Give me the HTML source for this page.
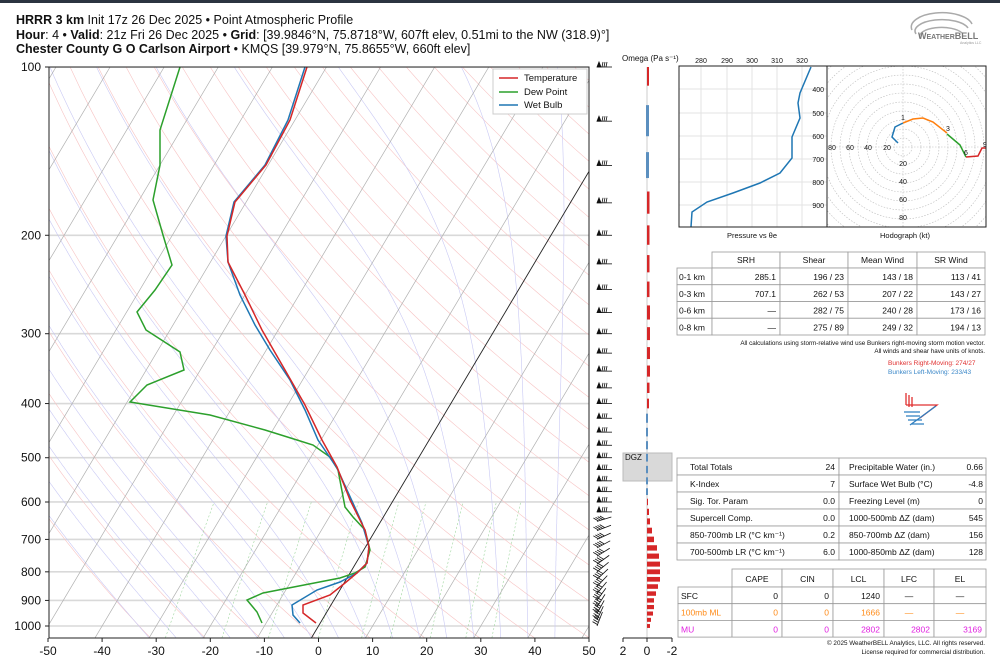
<!DOCTYPE html>
<html><head><meta charset="utf-8">
<style>
html,body{margin:0;padding:0;background:#fff;}
svg{display:block;font-family:"Liberation Sans",sans-serif;}
</style></head>
<body>
<svg id="s" width="1000" height="663" viewBox="0 0 1000 663" xmlns="http://www.w3.org/2000/svg">
<rect x="0" y="0" width="1000" height="663" fill="#fff"/>
<rect x="0" y="0" width="1000" height="3" fill="#2b3440"/>
<defs>
<clipPath id="cp"><rect x="49" y="67" width="540" height="571"/></clipPath>
<clipPath id="ch"><rect x="827" y="66" width="159" height="161"/></clipPath>
<clipPath id="ct"><rect x="679" y="66" width="148" height="161"/></clipPath>
</defs>
<text x="16" y="24" font-size="12.5" fill="#111"><tspan font-weight="bold">HRRR 3 km</tspan> Init 17z 26 Dec 2025 • Point Atmospheric Profile</text>
<text x="16" y="39" font-size="12.5" fill="#111"><tspan font-weight="bold">Hour</tspan>: 4 • <tspan font-weight="bold">Valid</tspan>: 21z Fri 26 Dec 2025 • <tspan font-weight="bold">Grid</tspan>: [39.9846°N, 75.8718°W, 607ft elev, 0.51mi to the NW (318.9)°]</text>
<text x="16" y="53" font-size="12.5" fill="#111"><tspan font-weight="bold">Chester County G O Carlson Airport</tspan> • KMQS [39.979°N, 75.8655°W, 660ft elev]</text>
<g id="bg" clip-path="url(#cp)"></g>
<g id="prof" clip-path="url(#cp)" fill="none" stroke-width="1.5"></g>
<rect x="49" y="67" width="540" height="571" fill="none" stroke="#222" stroke-width="1"/>
<g id="axes" font-size="12" fill="#111"></g>
<g font-size="9.5" fill="#111">
<rect x="493" y="69" width="94" height="45" fill="#fff" stroke="#ccc"/>
<line x1="499" y1="78" x2="518" y2="78" stroke="#d62728" stroke-width="1.5"/><text x="524" y="81">Temperature</text>
<line x1="499" y1="92" x2="518" y2="92" stroke="#2ca02c" stroke-width="1.5"/><text x="524" y="95">Dew Point</text>
<line x1="499" y1="105" x2="518" y2="105" stroke="#1f77b4" stroke-width="1.5"/><text x="524" y="108">Wet Bulb</text>
</g>
<g id="barbs" stroke="#111" fill="#111" stroke-width="0.8"></g>
<text x="622" y="61" font-size="8" fill="#111">Omega (Pa s⁻¹)</text>
<rect x="623" y="453" width="49" height="28" fill="#d9d9d9" stroke="#bbb"/>
<text x="625" y="460" font-size="8" fill="#111">DGZ</text>
<line x1="647" y1="67" x2="647" y2="638" stroke="#ccc" stroke-width="1"/>
<g id="omega"></g>
<line x1="623" y1="638" x2="672" y2="638" stroke="#222"/>
<g font-size="12" fill="#111" text-anchor="middle">
<line x1="623" y1="638" x2="623" y2="642" stroke="#222"/><line x1="647" y1="638" x2="647" y2="642" stroke="#222"/><line x1="672" y1="638" x2="672" y2="642" stroke="#222"/>
<text x="623" y="655">2</text><text x="647" y="655">0</text><text x="672" y="655">-2</text>
</g>
<g id="te" font-size="7" fill="#111"></g>
<rect x="679" y="66" width="148" height="161" fill="none" stroke="#222"/>
<text x="752" y="238" font-size="7.5" text-anchor="middle" fill="#111">Pressure vs θe</text>
<g id="hodo" font-size="7" fill="#111"></g>
<rect x="827" y="66" width="159" height="161" fill="none" stroke="#222"/>
<text x="905" y="238" font-size="7.5" text-anchor="middle" fill="#111">Hodograph (kt)</text>
<g fill="none" stroke="#aaa" stroke-width="1.5">
<path d="M912 30 A30 14 0 0 1 972 24"/><path d="M916 34 A26 11 0 0 1 968 28"/><path d="M920 38 A22 9 0 0 1 962 33"/>
</g>
<text x="918" y="39" font-size="9" font-weight="bold" fill="#777">W<tspan font-size="7">EATHER</tspan>BELL</text>
<text x="960" y="44" font-size="3.5" fill="#999">Analytics LLC</text>
<g id="tables" font-size="8.5" fill="#111"></g>
</svg>
<script>
const NS="http://www.w3.org/2000/svg";
function el(par,tag,at,txt){const e=document.createElementNS(NS,tag);for(const k in at)e.setAttribute(k,at[k]);if(txt!==undefined)e.textContent=txt;document.getElementById(par).appendChild(e);return e;}
const yOf=p=>67+559*Math.log10(p/100);
const xOf=(T,p)=>318.5+T*5.41+(626-yOf(p))*0.595;
function pathFrom(pts){return pts.map((q,i)=>(i?'L':'M')+q[0].toFixed(1)+' '+q[1].toFixed(1)).join(' ');}
for(let p=100;p<=1000;p+=100){el('bg','line',{x1:49,x2:589,y1:yOf(p),y2:yOf(p),stroke:'#d9d9d9','stroke-width':1.6});}
for(let th=240;th<=500;th+=10){const pts=[];for(let p=1050;p>=100;p-=10){const T=th*Math.pow(p/1000,0.2857)-273.15;pts.push([xOf(T,p),yOf(p)]);}
el('bg','path',{d:pathFrom(pts),fill:'none',stroke:'#f7c4c4','stroke-width':0.6});}
function es(T){return 6.112*Math.exp(17.67*(T-273.15)/(T-29.65));}
for(let t0=-30;t0<=45;t0+=5){let T=t0+273.15;const pts=[];for(let p=1050;p>=100;p-=2){pts.push([xOf(T-273.15,p),yOf(p)]);const e=es(T),rs=0.622*e/(p-e);const d=(287*T+2.5e6*rs)/(p*(1004+2.5e6*2.5e6*rs*0.622/(287*T*T)));T-=d*2;}
el('bg','path',{d:pathFrom(pts),fill:'none',stroke:'#c9c9f4','stroke-width':0.6});}
[0.4,1,2,4,7,10,16,24,32].forEach(w=>{const pts=[];for(let p=1050;p>=600;p-=10){const e=(w/1000)*p/(0.622+w/1000);const l=Math.log(e/6.112);const Td=243.5*l/(17.67-l);pts.push([xOf(Td,p),yOf(p)]);}
el('bg','path',{d:pathFrom(pts),fill:'none',stroke:'#9fd69f','stroke-width':0.6,'stroke-dasharray':'2,2'});});
for(let T=-150;T<=50;T+=10){el('bg','line',{x1:xOf(T,1050),y1:yOf(1050),x2:xOf(T,100),y2:yOf(100),stroke:T==0?'#222':'#b0b0b0','stroke-width':T==0?0.9:0.7});}
const red=[[307,67],[290,120],[266,165],[235,202],[227,236],[228,262],[245,295],[262,330],[285,370],[305,405],[322,440],[337,467],[350,500],[365,530],[369,547],[367,563],[357,573],[345,583],[330,595],[303,605],[303,613],[316,623]];
const blue=[[305,67],[288,120],[265,165],[234,202],[226,236],[228,262],[240,295],[255,325],[270,350],[290,380],[305,410],[318,440],[337,468],[362,523],[369,547],[367,563],[357,573],[340,582],[317,590],[292,605],[293,615],[300,623]];
const green=[[180,67],[160,130],[160,165],[153,200],[163,235],[172,265],[155,290],[137,312],[146,330],[180,352],[184,370],[147,385],[130,402],[210,415],[265,430],[297,440],[313,445],[330,457],[338,470],[345,507],[353,517],[365,530],[370,550],[365,567],[355,573],[340,578],[263,593],[247,600],[257,612],[262,623]];
el('prof','path',{d:pathFrom(green),stroke:'#2ca02c'});
el('prof','path',{d:pathFrom(blue),stroke:'#1f77b4'});
el('prof','path',{d:pathFrom(red),stroke:'#d62728'});
for(let p=100;p<=1000;p+=100){const y=yOf(p);el('axes','line',{x1:45,x2:49,y1:y,y2:y,stroke:'#222'});el('axes','text',{x:41,y:y+4,'text-anchor':'end'},String(p));}
for(let T=-50;T<=50;T+=10){const x=318.5+T*5.41;el('axes','line',{x1:x,x2:x,y1:638,y2:642,stroke:'#222'});el('axes','text',{x:x,y:655,'text-anchor':'middle'},String(T));}
const om={100:['r',2],125:['b',3],150:['b',3],175:['r',2.5],200:['r',2.5],225:['r',2.5],250:['r',2.5],275:['r',3],300:['r',3],325:['r',3],350:['r',3],375:['r',2.5],400:['r',2],425:['b',2],450:['b',2],475:['b',2],500:['b',2],525:['b',2],550:['b',2],575:['b',2],600:['r',1],625:['r',2],650:['r',3],675:['r',5],700:['r',7],725:['r',10],750:['r',12],775:['r',13],800:['r',13],825:['r',13],850:['r',11],875:['r',9],900:['r',7],925:['r',7],950:['r',6],975:['r',4],1000:['r',3]};
for(const k in om){const p=+k;const y0=Math.max(67,yOf(p-8)),y1=yOf(p+8);const [c,w]=om[k];
if(c=='r')el('omega','rect',{x:647,y:y0,width:w,height:y1-y0,fill:'#d62728'});else el('omega','rect',{x:646,y:y0,width:w,height:y1-y0,fill:'#5b8fbf'});}
for(let p=100;p<=1000;p+=25){const y=yOf(p);
if(p<650){el('barbs','line',{x1:597,y1:y,x2:612,y2:y});el('barbs','path',{d:`M597 ${y} L599 ${y-5} L601 ${y} Z`});
for(let i=0;i<3;i++)el('barbs','line',{x1:602+i*2,y1:y,x2:603+i*2,y2:y-5});}
else{const ang=(p-650)/350;const dx=15*Math.cos(0.3+ang*0.9),dy=-15*Math.sin(0.3+ang*0.9);
el('barbs','line',{x1:597,y1:y,x2:597+dx,y2:y+dy});for(let i=0;i<4;i++){const bx=597+dx*(0.1+i*0.15),by=y+dy*(0.1+i*0.15);el('barbs','line',{x1:bx,y1:by,x2:bx-5,y2:by-3});}}}
const tx=[[280,701],[290,727],[300,752],[310,777],[320,802]];
tx.forEach(([v,x])=>{el('te','line',{x1:x,x2:x,y1:66,y2:227,stroke:'#e3e3e3'});el('te','text',{x:x,y:63,'text-anchor':'middle'},String(v));});
[[400,89],[500,113],[600,136],[700,159],[800,182],[900,205]].forEach(([v,y])=>{el('te','line',{x1:679,x2:827,y1:y,y2:y,stroke:'#e3e3e3'});el('te','text',{x:824,y:y+3,'text-anchor':'end'},String(v));});
el('te','path',{d:pathFrom([[811,67],[800,93],[798,103],[800,118],[792,137],[792,158],[780,173],[760,183],[733,193],[707,202],[692,212],[691,227]]),fill:'none',stroke:'#1f77b4','stroke-width':1.5,'clip-path':'url(#ct)'});
const cx=903,cy=147;
for(let r=9;r<=120;r+=9)el('hodo','circle',{cx:cx,cy:cy,r:r,fill:'none',stroke:'#bbb','stroke-width':0.6,'stroke-dasharray':'1.5,1.5','clip-path':'url(#ch)'});
el('hodo','line',{x1:827,x2:986,y1:cy,y2:cy,stroke:'#bbb','stroke-width':0.6,'stroke-dasharray':'1.5,1.5'});
el('hodo','line',{x1:cx,x2:cx,y1:66,y2:227,stroke:'#bbb','stroke-width':0.6,'stroke-dasharray':'1.5,1.5'});
[[20,887],[40,868],[60,850],[80,832]].forEach(([v,x])=>{el('hodo','text',{x:x,y:cy+3,'text-anchor':'middle'},String(v));});
[[20,166],[40,184],[60,202],[80,220]].forEach(([v,y])=>{el('hodo','text',{x:cx,y:y,'text-anchor':'middle'},String(v));});
el('hodo','path',{d:pathFrom([[898,143],[892,137],[895,127],[903,123]]),fill:'none',stroke:'#1f77b4','stroke-width':1.5});
el('hodo','path',{d:pathFrom([[903,123],[913,119],[923,118],[933,122],[947,133]]),fill:'none',stroke:'#ff7f0e','stroke-width':1.5});
el('hodo','path',{d:pathFrom([[947,134],[960,145],[966,157]]),fill:'none',stroke:'#2ca02c','stroke-width':1.5});
el('hodo','path',{d:pathFrom([[966,157],[978,156],[981,150],[982,148],[986,148]]),fill:'none',stroke:'#d62728','stroke-width':1.5,'clip-path':'url(#ch)'});
[['1',903,120],['3',948,131],['6',966,155],['9',985,147]].forEach(([t,x,y])=>el('hodo','text',{x:x,y:y,'text-anchor':'middle'},t));
function cell(x,y,w,h){el('tables','rect',{x:x,y:y,width:w,height:h,fill:'#fff',stroke:'#999','stroke-width':0.8});}
function txt(x,y,t,anc,col,fs){const a={x:x,y:y,'text-anchor':anc||'start'};if(col)a.fill=col;if(fs)a['font-size']=fs;el('tables','text',a,t);}
const c1=[677,712,780,848,917,985];
['SRH','Shear','Mean Wind','SR Wind'].forEach((h,i)=>{cell(c1[i+1],252,c1[i+2]-c1[i+1],16);txt((c1[i+1]+c1[i+2])/2,263,h,'middle');});
const r1=[['0-1 km','285.1','196 / 23','143 / 18','113 / 41'],['0-3 km','707.1','262 / 53','207 / 22','143 / 27'],['0-6 km','—','282 / 75','240 / 28','173 / 16'],['0-8 km','—','275 / 89','249 / 32','194 / 13']];
r1.forEach((r,j)=>{const y=268+j*16.75;for(let i=0;i<5;i++){cell(c1[i],y,c1[i+1]-c1[i],16.75);}
txt(679,y+12,r[0]);for(let i=1;i<5;i++)txt(c1[i+1]-4,y+12,r[i],'end');});
txt(985,345,'All calculations using storm-relative wind use Bunkers right-moving storm motion vector.','end',null,6.3);
txt(985,353,'All winds and shear have units of knots.','end',null,6.3);
txt(888,365,'Bunkers Right-Moving: 274/27','start','#e03030',6.5);
txt(888,374,'Bunkers Left-Moving: 233/43','start','#3a87c8',6.5);
el('tables','path',{d:'M906 393 L906 405 M909 395 L909 407 M912 397 L912 407 M906 405 L937 405 L920 418',fill:'none',stroke:'#e03030','stroke-width':1.3});
el('tables','path',{d:'M904 412 L920 412 M906 416 L920 416 M908 420 L922 420 M911 424 L924 424 M910 425 L936 406',fill:'none',stroke:'#2f7fc0','stroke-width':1.3});
const r2=[['Total Totals','24','Precipitable Water (in.)','0.66'],['K-Index','7','Surface Wet Bulb (°C)','-4.8'],['Sig. Tor. Param','0.0','Freezing Level (m)','0'],['Supercell Comp.','0.0','1000-500mb ΔZ (dam)','545'],['850-700mb LR (°C km⁻¹)','0.2','850-700mb ΔZ (dam)','156'],['700-500mb LR (°C km⁻¹)','6.0','1000-850mb ΔZ (dam)','128']];
r2.forEach((r,j)=>{const y=458+j*17;cell(677,y,162,17);cell(839,y,147,17);txt(690,y+12,r[0]);txt(835,y+12,r[1],'end');txt(849,y+12,r[2]);txt(983,y+12,r[3],'end');});
const c3=[678,732,782,833,884,934,986];
['CAPE','CIN','LCL','LFC','EL'].forEach((h,i)=>{cell(c3[i+1],569,c3[i+2]-c3[i+1],18);txt((c3[i+1]+c3[i+2])/2,582,h,'middle');});
const r3=[['SFC','0','0','1240','—','—','#111'],['100mb ML','0','0','1666','—','—','#ff8c1a'],['MU','0','0','2802','2802','3169','#e020e0']];
r3.forEach((r,j)=>{const y=587+j*16.7;for(let i=0;i<6;i++)cell(c3[i],y,c3[i+1]-c3[i],16.7);txt(681,y+12,r[0],'start',r[6]);
for(let i=1;i<6;i++){const dash=r[i]=='—';txt(dash?(c3[i]+c3[i+1])/2:c3[i+1]-4,y+12,r[i],dash?'middle':'end',r[6]);}});
txt(985,645,'© 2025 WeatherBELL Analytics, LLC. All rights reserved.','end',null,6.3);
txt(985,654,'License required for commercial distribution.','end',null,6.3);
</script>
</body></html>
